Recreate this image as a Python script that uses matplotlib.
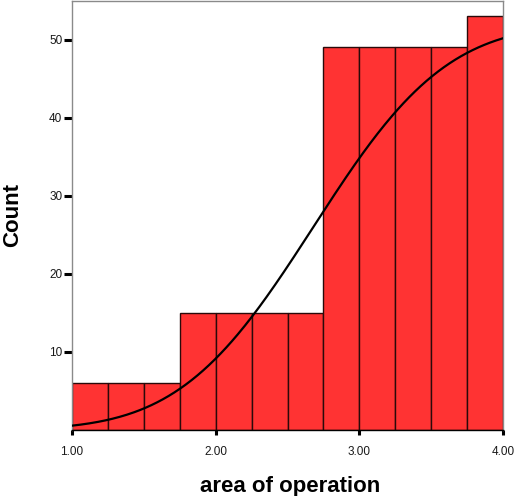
import math
import numpy as np
import matplotlib
matplotlib.use("Agg")
import matplotlib.pyplot as plt

plt.rcParams['font.family'] = ['Liberation Sans', 'DejaVu Sans']

# histogram data (bins of 0.25 between 1 and 4)
bin_edges = [1.0, 1.25, 1.5, 1.75, 2.0, 2.25, 2.5, 2.75, 3.0, 3.25, 3.5, 3.75, 4.0]
counts = [6, 6, 6, 15, 15, 15, 15, 49, 49, 49, 49, 53]

# fitted curve parameters
curve_scale = 52.0
curve_mean = 2.68
curve_sd = 0.73

x_ticks = [1.0, 2.0, 3.0, 4.0]
x_ticklabels = ['1.00', '2.00', '3.00', '4.00']
y_ticks = [10, 20, 30, 40, 50]

fig = plt.figure(figsize=(5.15, 4.96), dpi=100)
ax = fig.add_axes([72/515, 66/496, 431/515, 429.5/496])

lefts = bin_edges[:-1]
widths = np.diff(bin_edges)
ax.bar(lefts, counts, width=widths, align='edge', color='#ff3333',
       edgecolor='#2a0a0a', linewidth=1.0, zorder=2)

xs = np.linspace(bin_edges[0], bin_edges[-1], 300)
ys = [curve_scale * 0.5 * (1 + math.erf((x - curve_mean) / (curve_sd * math.sqrt(2)))) for x in xs]
ax.plot(xs, ys, color='black', linewidth=1.6, zorder=3)

ax.set_xlim(1.0, 4.0)
ax.set_ylim(0, 55)

ax.set_xticks(x_ticks)
ax.set_xticklabels(x_ticklabels)
ax.set_yticks(y_ticks)
ax.tick_params(axis='both', direction='out', width=2.2, color='black',
               labelsize=8.5, labelcolor='#1a1a1a')
ax.tick_params(axis='y', length=5.5, pad=1.5)
ax.tick_params(axis='x', length=3.5, pad=8)

for s in ['left', 'top', 'right']:
    ax.spines[s].set_color('#8a8a8a')
    ax.spines[s].set_linewidth(1.0)
ax.spines['bottom'].set_color('black')
ax.spines['bottom'].set_linewidth(1.0)

ax.set_xlabel('area of operation', fontsize=16, fontweight='bold', va='center', ha='center')
ax.xaxis.set_label_coords(0.507, -0.132)
ax.set_ylabel('Count', fontsize=16, fontweight='bold', va='center', ha='center')
ax.yaxis.set_label_coords(-0.138, 0.5)

fig.savefig('out.png', dpi=100)
